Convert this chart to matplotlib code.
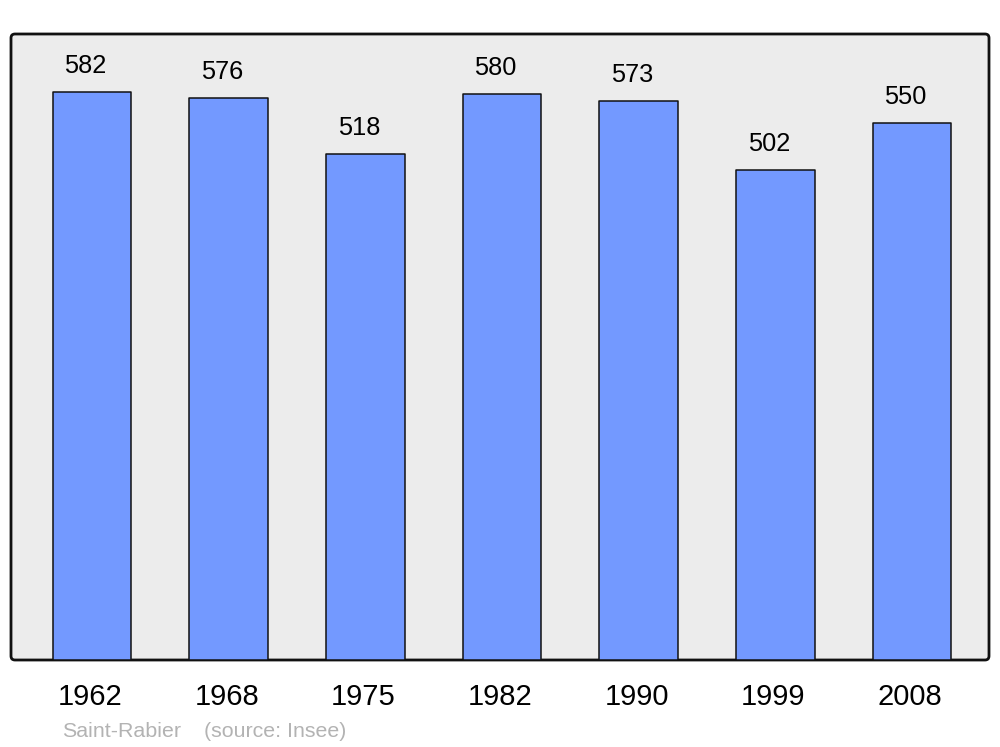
import matplotlib
matplotlib.use("Agg")
import matplotlib.pyplot as plt
from matplotlib.patches import FancyBboxPatch

years = ["1962", "1968", "1975", "1982", "1990", "1999", "2008"]
population = [582, 576, 518, 580, 573, 502, 550]
place = "Saint-Rabier"
source = "(source: Insee)"

plt.rcParams['font.family'] = ['Liberation Sans', 'DejaVu Sans']

W, H = 1000, 747
fig = plt.figure(figsize=(W / 100, H / 100), dpi=100)

ax_l, ax_r, ax_t, ax_b = 11, 989, 34, 660
ax = fig.add_axes([ax_l / W, 1 - ax_b / H, (ax_r - ax_l) / W, (ax_b - ax_t) / H])
ax.set_facecolor('none')
ax.set_zorder(1)

frame = FancyBboxPatch((ax_l / W, 1 - ax_b / H), (ax_r - ax_l) / W, (ax_b - ax_t) / H,
                       boxstyle="round,pad=0,rounding_size=0.004",
                       mutation_aspect=W / H,
                       transform=fig.transFigure, facecolor='#ececec',
                       edgecolor='#111111', linewidth=2.0, zorder=-1)
fig.patches.append(frame)

x = list(range(len(years)))
ax.bar(x, population, width=0.575, color='#7399ff', edgecolor='#111111',
       linewidth=1.1, joinstyle='round', zorder=2)

ax.set_xlim(-0.593, 6.563)
ax.set_ylim(0, 641.4)
for s in ax.spines.values():
    s.set_visible(False)
ax.set_xticks([])
ax.set_yticks([])

for xi, v, yr in zip(x, population, years):
    ax.annotate(str(v), xy=(xi, v), xytext=(-6.5 * 0.72, 19 * 0.72), textcoords='offset points',
                ha='center', va='baseline', fontsize=18.3, color='black', zorder=3)
    ax.annotate(yr, xy=(xi, 0), xycoords=('data', 'axes fraction'),
                xytext=(-2 * 0.72, -45 * 0.72), textcoords='offset points',
                ha='center', va='baseline', fontsize=21, color='black',
                annotation_clip=False)

fig.text(62 / W, 1 - 737 / H, place, ha='left', va='baseline', fontsize=15.4, color='#b3b3b3')
fig.text(204 / W, 1 - 737 / H, source, ha='left', va='baseline', fontsize=15.4, color='#b3b3b3')

fig.savefig('out.png', dpi=100)
